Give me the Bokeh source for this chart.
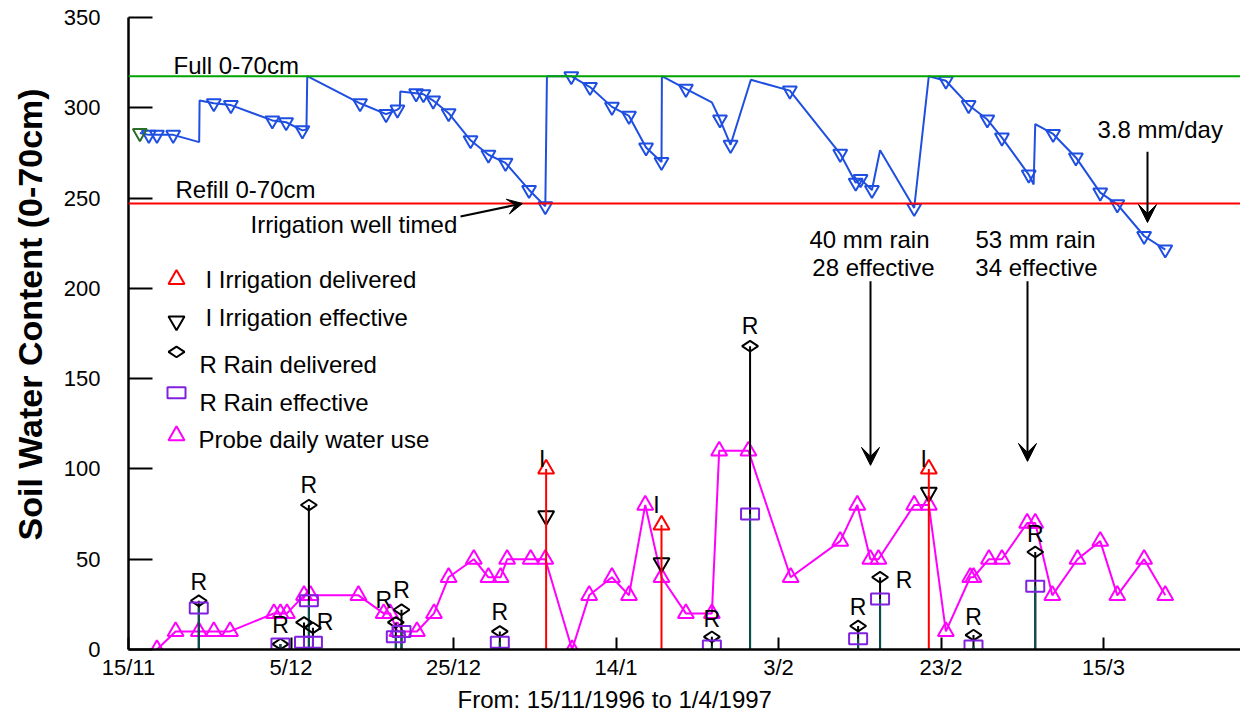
import numpy as np
from bokeh.plotting import figure
from bokeh.models import (ColumnDataSource, Label, LabelSet, Arrow, VeeHead, FixedTicker,
                          Span, Title)
from bokeh.core.properties import value
from bokeh.embed import file_html
from bokeh.resources import INLINE

FONT = "Liberation Sans"

# ---------------- data (x = days since 15/11/1996) ----------------
full_point = 317.5
refill_point = 247.0

swc_day = [1.4, 2.5, 3.5, 5.5, 8.7, 8.75, 10.5, 12.6, 17.7, 19.4, 21.4, 21.9, 22.0,
           28.5, 31.7, 33.1, 33.4, 33.45, 35.4, 36.3, 37.5, 39.4, 42.1, 44.3, 46.4,
           49.3, 51.3, 51.5, 54.5, 56.8, 59.5, 61.6, 63.7, 65.6, 65.65, 68.6, 71.8,
           72.8, 74.1, 76.6, 81.4, 87.6, 89.5, 90.1, 91.5, 92.5, 96.7, 98.5, 100.6,
           103.4, 105.7, 107.5, 110.8, 111.4, 111.6, 113.8, 116.6, 119.6, 121.7,
           125.0, 127.6]
swc_value = [286, 285, 285, 285, 281, 304, 302.5, 301.5, 293, 292, 287.5, 288, 317.5,
             302.5, 296.5, 299, 300, 309, 308, 307.5, 304, 297, 282, 274, 269.5,
             254.5, 245.5, 317.5, 317.5, 311.5, 300.5, 295.5, 278, 270, 317.5, 310.5, 303,
             293.5, 279.5, 315.5, 309.5, 274.5, 258.5, 260.5, 254.5, 276.5, 244.5, 317.5, 315,
             301.5, 293.5, 283.5, 263, 257.5, 291, 285.5, 272.5, 253, 246.5,
             229, 221.5]
swc_probe = [0, 1, 1, 1, 0, 0, 1, 1, 1, 1, 1, 0, 0,
             1, 1, 1, 0, 0, 1, 1, 1, 1, 1, 1, 1,
             1, 1, 0, 1, 1, 1, 1, 1, 1, 0, 1, 0,
             1, 1, 0, 1, 1, 1, 1, 1, 0, 1, 0, 1,
             1, 1, 1, 1, 0, 0, 1, 1, 1, 1,
             1, 1]

use_day = [3.5, 5.8, 8.65, 10.5, 12.5, 17.9, 18.7, 19.5, 21.6, 22.4, 28.3, 31.4, 32.2,
           33.1, 35.5, 37.6, 39.4, 42.5, 44.3, 45.8, 46.6, 49.5, 51.3, 54.6, 56.7,
           59.5, 61.6, 63.6, 65.6, 68.6, 71.8, 72.7, 76.3, 81.5, 87.6, 89.7, 91.3,
           92.3, 96.7, 98.5, 100.6, 103.6, 104.0, 105.9, 107.5, 110.6, 111.6, 113.7,
           116.8, 119.6, 121.7, 125.0, 127.6]
use_value = [0, 10, 10, 10, 10, 20, 20, 20, 30, 30, 30, 20, 20,
             10, 10, 20, 40, 50, 40, 40, 50, 50, 50, 0, 30,
             40, 30, 80, 40, 20, 20, 110, 110, 40, 60, 80, 50,
             50, 80, 80, 10, 40, 40, 50, 50, 70, 70, 30,
             50, 60, 30, 50, 30]

rain_day = [8.65, 18.7, 21.6, 22.2, 22.7, 32.9, 33.6, 45.7, 71.8, 76.5, 89.8, 92.5, 104.0, 111.6]
rain_delivered = [27, 3, 15, 80, 12, 15, 22, 10, 7, 168, 13, 40, 8, 54]
rain_effective = [23, 3, 4, 27, 4, 7, 10, 4, 2, 75, 6, 28, 2, 35]
rain_tag = ["R", "R", "", "R", "R", "R", "R", "R", "R", "R", "R", "R", "R", "R"]

irr_day = [51.4, 65.6, 98.5]
irr_delivered = [100, 69, 100]
irr_effective = [74, 48, 87]
irr_tag = ["I", "I", "I"]

tick_day = [0, 20, 40, 60, 80, 100, 120]
tick_label = ["15/11", "5/12", "25/12", "14/1", "3/2", "23/2", "15/3"]
y_ticks = [0, 50, 100, 150, 200, 250, 300, 350]

x_title = "From: 15/11/1996 to 1/4/1997"
y_title = "Soil Water Content (0-70cm)"

# ---------------- layout helpers ----------------
W, H = 1240, 714
LEFT, TOP, BOTTOM = 128, 17, 62
PX_DAY = 8.125
FRAME_H = H - TOP - BOTTOM
PX_UNIT = FRAME_H / 350.0
IMG_X0 = LEFT
IMG_Y0 = TOP + FRAME_H


def ax(px):
    return (px - IMG_X0) / PX_DAY


def ay(py):
    return (IMG_Y0 - py) / PX_UNIT


BLUE = "#1f4fe0"
MAGENTA = "#ff00ff"
PURPLE = "#8020e0"
TEAL = "#0a5050"
RED = "#ff0000"
GREEN = "#00a400"
TXT = "24px"

p = figure(width=W, height=H, x_range=(0, (W - LEFT) / PX_DAY), y_range=(0, 350),
           output_backend="svg", toolbar_location=None,
           min_border_left=LEFT, min_border_right=0, min_border_top=TOP,
           min_border_bottom=BOTTOM)
p.outline_line_color = None
p.grid.visible = False
p.background_fill_color = "white"
p.border_fill_color = "white"

# axes
p.yaxis.ticker = FixedTicker(ticks=y_ticks)
p.yaxis.major_tick_in = 24
p.yaxis.major_tick_out = 0
p.yaxis.major_tick_line_width = 2
p.yaxis.minor_tick_line_color = None
p.yaxis.axis_line_width = 2.5
p.yaxis.major_label_standoff = 28
p.yaxis.major_label_text_font = FONT
p.yaxis.major_label_text_font_size = "22px"
p.yaxis.major_label_text_color = "black"

p.xaxis.ticker = FixedTicker(ticks=tick_day)
p.xaxis.major_label_overrides = dict(zip(tick_day, tick_label))
p.xaxis.major_tick_in = 12
p.xaxis.major_tick_out = 0
p.xaxis.major_tick_line_width = 2
p.xaxis.minor_tick_line_color = None
p.xaxis.axis_line_width = 2.5
p.xaxis.major_label_standoff = 5
p.xaxis.major_label_text_font = FONT
p.xaxis.major_label_text_font_size = "22px"
p.xaxis.major_label_text_color = "black"

# axis titles
p.add_layout(Title(text=x_title, align="left", offset=329, standoff=3,
                   text_font=FONT, text_font_size="24px", text_font_style="normal",
                   text_color="black"), "below")
p.add_layout(Title(text=y_title, align="left", offset=109, standoff=20,
                   vertical_align="top",
                   text_font=FONT, text_font_size="34px", text_font_style="bold",
                   text_color="black"), "left")

# full / refill lines
p.add_layout(Span(location=full_point, dimension="width", line_color=GREEN, line_width=2))
p.add_layout(Span(location=refill_point, dimension="width", line_color=RED, line_width=2))

# soil water content
p.line(swc_day, swc_value, line_color=BLUE, line_width=2)
probe_x = [d for d, f in zip(swc_day, swc_probe) if f]
probe_y = [v for v, f in zip(swc_value, swc_probe) if f]
p.scatter(probe_x, probe_y, marker="inverted_triangle", size=14, line_color=BLUE,
          line_width=2, fill_color=None)
p.scatter(swc_day[:1], swc_value[:1], marker="inverted_triangle", size=14,
          line_color="#2a6e2a", line_width=2, fill_color=None)

# probe daily water use
p.line(use_day, use_value, line_color=MAGENTA, line_width=2)
p.scatter(use_day, use_value, marker="triangle", size=16, line_color=MAGENTA,
          line_width=2, fill_color=None)

# rain
zeros_r = [0] * len(rain_day)
p.segment(rain_day, zeros_r, rain_day, rain_delivered, line_color="black", line_width=2)
p.segment(rain_day, zeros_r, rain_day, rain_effective, line_color=TEAL, line_width=2)
p.scatter(rain_day, rain_delivered, marker="diamond", angle=np.pi / 2, size=16,
          line_color="black", line_width=2, fill_color=None)
p.rect(rain_day, rain_effective, width=18, height=11, width_units="screen",
       height_units="screen", line_color=PURPLE, line_width=2, fill_color=None)

# irrigation
zeros_i = [0] * len(irr_day)
p.scatter(irr_day, irr_effective, marker="inverted_triangle", size=16,
          line_color="black", line_width=2, fill_color=None)
p.segment(irr_day, zeros_i, irr_day, irr_delivered, line_color=RED, line_width=2)
p.scatter(irr_day, irr_delivered, marker="triangle", size=16, line_color=RED,
          line_width=2, fill_color=None)

# event tags (R / I) placed beside their markers (screen px, up positive)
rain_tag_dx = [0, 0, 0, 0, 12, -12, 0, 0, 0, 0, 0, 24, 0, 0]
rain_tag_dy = [19, 19, 0, 20, 6, 22, 20, 19, 18, 20, 19, -3, 18, 18]
rain_src = ColumnDataSource(dict(x=rain_day, y=rain_delivered, t=rain_tag,
                                 dx=rain_tag_dx, dy=rain_tag_dy))
p.add_layout(LabelSet(x="x", y="y", text="t", source=rain_src, x_offset="dx",
                      y_offset="dy", text_align="center", text_baseline="middle",
                      text_font=value(FONT), text_font_size=value("23px"),
                      text_color="black"))
irr_src = ColumnDataSource(dict(x=irr_day, y=irr_delivered, t=irr_tag,
                                dx=[-4, -5, -5], dy=[10, 20, 10]))
p.add_layout(LabelSet(x="x", y="y", text="t", source=irr_src, x_offset="dx",
                      y_offset="dy", text_align="center", text_baseline="middle",
                      text_font=value(FONT), text_font_size=value("23px"),
                      text_color="black"))

# annotations
notes = [
    ("Full 0-70cm", 173, 65, "left"),
    ("Refill 0-70cm", 175, 190, "left"),
    ("Irrigation well timed", 250, 225, "left"),
    ("3.8 mm/day", 1097, 130, "left"),
    ("40 mm rain", 869, 240, "center"),
    ("28 effective", 873, 268, "center"),
    ("53 mm rain", 1035, 240, "center"),
    ("34 effective", 1036, 268, "center"),
]
for txt, px, py, al in notes:
    p.add_layout(Label(x=ax(px), y=ay(py), text=txt, text_align=al,
                       text_baseline="middle", text_font=FONT,
                       text_font_size=TXT, text_color="black"))

arrows = [
    (ax(460), ay(217), irr_day[0] - 2.9, refill_point, 15),
    (ax(1147), ay(152), ax(1147), ay(223), 18),
    (ax(870), ay(282), ax(870), ay(467), 18),
    (ax(1027), ay(282), ax(1027), ay(463), 18),
]
for x0, y0, x1, y1, hs in arrows:
    p.add_layout(Arrow(x_start=x0, y_start=y0, x_end=x1, y_end=y1, line_width=2,
                       line_color="black",
                       end=VeeHead(size=hs, fill_color="black", line_color="black",
                                   line_width=1)))

# legend (drawn manually to mimic original placement)
legend_rows = [
    ("I Irrigation delivered", "triangle", RED, 280, 280, 205),
    ("I Irrigation effective", "inverted_triangle", "black", 322, 318, 205),
    ("R Rain delivered", "diamond", "black", 353, 366, 199),
    ("R Rain effective", "rect", PURPLE, 394, 404, 199),
    ("Probe daily water use", "triangle", MAGENTA, 437, 441, 198),
]
for lab, mk, col, gy, ty, tx in legend_rows:
    if mk == "rect":
        p.rect([ax(176)], [ay(gy)], width=18, height=11, width_units="screen",
               height_units="screen", line_color=col, line_width=2, fill_color=None)
    elif mk == "diamond":
        p.scatter([ax(176)], [ay(gy)], marker="diamond", angle=np.pi / 2, size=16,
                  line_color=col, line_width=2, fill_color=None)
    else:
        p.scatter([ax(176)], [ay(gy)], marker=mk, size=16, line_color=col,
                  line_width=2, fill_color=None)
    p.add_layout(Label(x=ax(tx), y=ay(ty), text=lab, text_align="left",
                       text_baseline="middle", text_font=FONT,
                       text_font_size=TXT, text_color="black"))

open("out.html", "w").write(file_html(p, INLINE))
